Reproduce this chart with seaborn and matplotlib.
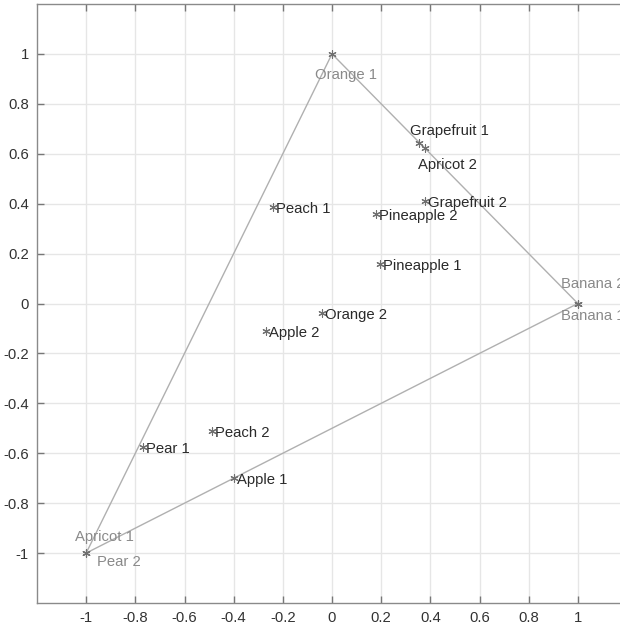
import matplotlib
matplotlib.use("Agg")
import matplotlib.pyplot as plt
import seaborn as sns
import pandas as pd
import numpy as np

# ---- data ----
names = ["Orange 1", "Banana 1", "Banana 2", "Apricot 1", "Pear 2",
         "Grapefruit 1", "Apricot 2", "Grapefruit 2", "Pineapple 2",
         "Pineapple 1", "Orange 2", "Apple 2", "Peach 1", "Peach 2",
         "Pear 1", "Apple 1"]
x_vals = [0.0, 1.0, 1.0, -1.0, -1.0,
          0.355, 0.38, 0.38, 0.18,
          0.195, -0.04, -0.27, -0.24, -0.49,
          -0.77, -0.40]
y_vals = [1.0, 0.0, 0.0, -1.0, -1.0,
          0.645, 0.625, 0.41, 0.36,
          0.16, -0.04, -0.11, 0.385, -0.51,
          -0.575, -0.70]

tri_x = [0.0, 1.0, -1.0, 0.0]
tri_y = [1.0, 0.0, -1.0, 1.0]

tick_vals = [-1, -0.8, -0.6, -0.4, -0.2, 0, 0.2, 0.4, 0.6, 0.8, 1]
tick_labels = ["-1", "-0.8", "-0.6", "-0.4", "-0.2", "0", "0.2", "0.4", "0.6", "0.8", "1"]

# ---- label placement (style, in pixels) ----
vertex_names = {"Orange 1", "Banana 1", "Banana 2", "Apricot 1", "Pear 2"}
label_offsets = {
    "Orange 1": (-17, -21),
    "Banana 1": (-17, -12),
    "Banana 2": (-17, 20),
    "Apricot 1": (-11, 16),
    "Pear 2": (11, -9),
    "Grapefruit 1": (-9, 12),
    "Apricot 2": (-7, -17),
}
default_offset = (3, -2)

sns.set_theme(style="white")
plt.rcParams['font.family'] = ['Liberation Sans', 'DejaVu Sans']

fig = plt.figure(figsize=(6.2, 6.27), dpi=100)
ax = fig.add_axes([37/620, 1-603/627, (627-37)/620, (603-4)/627])

df = pd.DataFrame({"x": x_vals, "y": y_vals, "name": names})
tri = pd.DataFrame({"x": tri_x, "y": tri_y, "i": range(len(tri_x))})

sns.lineplot(data=tri, x="x", y="y", sort=False, estimator=None, ax=ax,
             color="#b0b0b0", linewidth=1.0, zorder=2)
sns.scatterplot(data=df, x="x", y="y", ax=ax, marker=(6, 2, 0), s=28,
                color="#707070", edgecolor="#707070", linewidth=0.8, zorder=3)

for n, xv, yv in zip(names, x_vals, y_vals):
    dx, dy = label_offsets.get(n, default_offset)
    col = "#8a8a8a" if n in vertex_names else "#2a2a2a"
    ax.annotate(n, (xv, yv), xytext=(dx, dy), textcoords="offset pixels",
                ha="left", va="center", fontsize=10.7, color=col, zorder=4)

ax.set_xlim(-1.2, 1.2)
ax.set_ylim(-1.2, 1.2)
ax.set_xticks(tick_vals)
ax.set_xticklabels(tick_labels)
ax.set_yticks(tick_vals)
ax.set_yticklabels(tick_labels)
ax.set_xlabel("")
ax.set_ylabel("")
ax.grid(True, color="#e6e6e6", linewidth=1.0)
ax.set_axisbelow(True)
ax.tick_params(direction="in", length=5, width=1, color="#777777",
               labelsize=10.7, labelcolor="#333333", top=True, right=True,
               bottom=True, left=True, pad=6)
for sp in ax.spines.values():
    sp.set_color("#8a8a8a")
    sp.set_linewidth(1.0)
if ax.get_legend() is not None:
    ax.get_legend().remove()

fig.savefig("out.png", dpi=100)
